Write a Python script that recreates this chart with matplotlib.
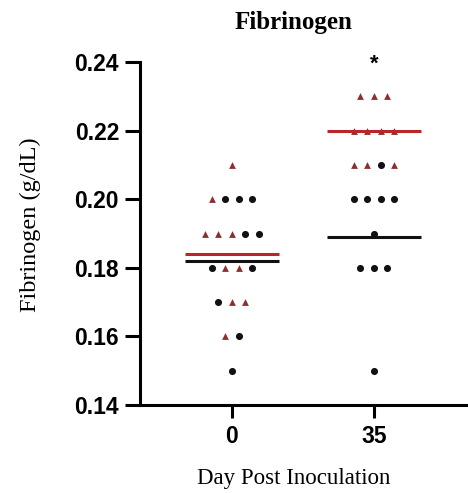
"""
Fibrinogen by day post inoculation: two groups (triangles / circles) with group means.
"""
import numpy as np
import matplotlib
matplotlib.use('Agg')
import matplotlib.pyplot as plt

# one entry per row of the dot plot: value and the marker order in that row
# (T = triangle group, C = circle group)
day_labels = ['0', '35']
day0_values = [0.21, 0.20, 0.19, 0.18, 0.17, 0.16, 0.15]
day0_kinds = ['T', 'TCCC', 'TTTCC', 'CTTC', 'CTT', 'TC', 'C']
day35_values = [0.23, 0.22, 0.21, 0.20, 0.19, 0.18, 0.15]
day35_kinds = ['TTT', 'TTTT', 'TTCT', 'CCCC', 'C', 'CCC', 'C']
star_value = 0.2395

TRI_COLOR = '#8e2f2f'
DOT_COLOR = '#111111'
RED_LINE = '#b8262b'
SPACING = 0.095
HALF_WIDTH = 0.33


def spread_rows(center, values, kinds):
    points = {'T': ([], []), 'C': ([], [])}
    for value, row in zip(values, kinds):
        n = len(row)
        for i, kind in enumerate(row):
            points[kind][0].append(center + (i - (n - 1) / 2) * SPACING)
            points[kind][1].append(value)
    return points


fig = plt.figure(figsize=(4.68, 4.93), dpi=100)
ax = fig.add_axes([0.299, 0.1785, 0.701, 0.6955])

groups = [(day0_values, day0_kinds), (day35_values, day35_kinds)]
for pos, (values, kinds) in enumerate(groups):
    pts = spread_rows(pos, values, kinds)
    ax.scatter(pts['T'][0], pts['T'][1], marker='^', s=24, color=TRI_COLOR,
               linewidths=0, zorder=3)
    ax.scatter(pts['C'][0], pts['C'][1], marker='o', s=26, color=DOT_COLOR,
               linewidths=0, zorder=3)
    ax.hlines(np.mean(pts['T'][1]), pos - HALF_WIDTH, pos + HALF_WIDTH,
              color=RED_LINE, linewidth=2.2, zorder=4)
    ax.hlines(np.mean(pts['C'][1]), pos - HALF_WIDTH, pos + HALF_WIDTH,
              color=DOT_COLOR, linewidth=2.2, zorder=4)

ax.text(1, star_value, '*', ha='center', va='center', fontsize=16,
        fontweight='bold', family='Liberation Sans')

ax.set_xlim(-0.648, 1.662)
ax.set_ylim(0.14, 0.24)
ax.set_xticks([0, 1])
ax.set_xticklabels(day_labels)
ax.set_yticks(np.arange(0.14, 0.2401, 0.02))
ax.set_yticklabels([f'{t:.2f}' for t in np.arange(0.14, 0.2401, 0.02)])

for side in ('top', 'right'):
    ax.spines[side].set_visible(False)
for side in ('left', 'bottom'):
    ax.spines[side].set_linewidth(2.2)
ax.tick_params(width=2.2, labelsize=16.5)
ax.tick_params(axis='y', length=11, pad=4)
ax.tick_params(axis='x', length=9.5, pad=5)
for lab in ax.get_xticklabels() + ax.get_yticklabels():
    lab.set_fontweight('bold')
    lab.set_family('Liberation Sans')

ax.set_ylabel('Fibrinogen (g/dL)', family='Liberation Serif', fontsize=17.5)
ax.yaxis.set_label_coords(-0.335, 0.525)
ax.set_xlabel('Day Post Inoculation', family='Liberation Serif', fontsize=16.5)
ax.xaxis.set_label_coords(0.47, -0.213)
ax.xaxis.label.set_va('center')
ax.yaxis.label.set_va('center')
fig.text(0.628, 0.955, 'Fibrinogen', ha='center', va='center',
         family='Liberation Serif', fontweight='bold', fontsize=18)

fig.savefig('out.png', dpi=100)
